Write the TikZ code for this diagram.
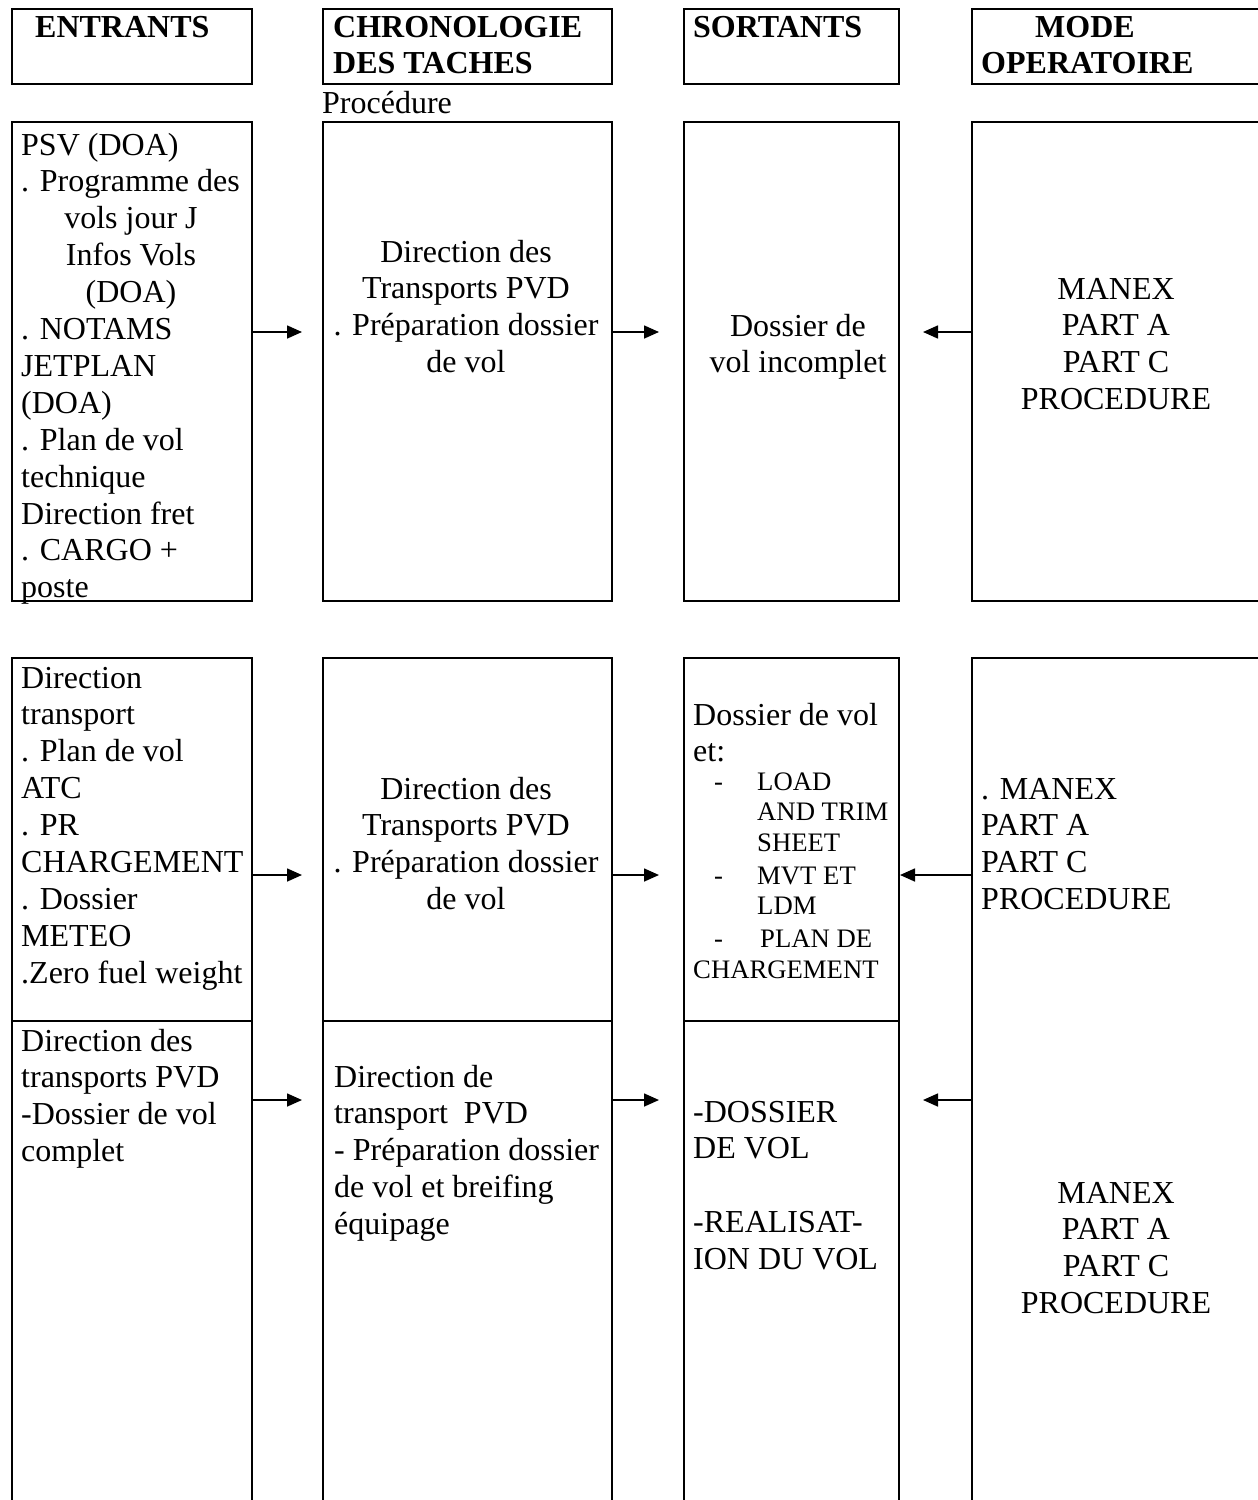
\documentclass[tikz,border=0pt]{standalone}
\usepackage{fontspec}
\setmainfont{Liberation Serif}
\usetikzlibrary{arrows.meta}
\begin{document}
% Multi-line text nodes are placed by the baseline of their last line.
\begin{tikzpicture}[x=1pt,y=-1pt,
  box/.style={draw, line width=2pt, inner sep=0pt, anchor=north west},
  body/.style={inner sep=0pt, font=\fontsize{32}{36.9}\selectfont},
  small/.style={inner sep=0pt, font=\fontsize{26.7}{30.9}\selectfont},
  head/.style={inner sep=0pt, font=\fontsize{32}{36}\selectfont\bfseries},
  lft/.style={anchor=base west, align=left},
  ctr/.style={anchor=base, align=center},
  arr/.style={line width=1.6pt, -{Triangle[length=15pt,width=13pt]}}]
\clip (0,0) rectangle (1258,1500);

% column headers
\node[box, minimum width=240pt, minimum height=75pt] (h1) at (11,8) {};
\node[box, minimum width=289pt, minimum height=75pt] (h2) at (322,8) {};
\node[box, minimum width=215pt, minimum height=75pt] (h3) at (683,8) {};
\node[box, minimum width=320pt, minimum height=75pt] (h4) at (971,8) {};
\node[head,lft] (h1t) at (35,37) {ENTRANTS};
\node[head,lft] (h2t) at (333,73) {CHRONOLOGIE\\DES TACHES};
\node[head,lft] (h3t) at (693,37) {SORTANTS};
\node[head,lft] (h4t) at (981,73) {\hspace*{54pt}MODE\\OPERATOIRE};
\node[body,lft] (proc) at (322,113) {Procédure};

% first stage
\node[box, minimum width=240pt, minimum height=479pt] (e1) at (11,121) {};
\node[box, minimum width=289pt, minimum height=479pt] (t1) at (322,121) {};
\node[box, minimum width=215pt, minimum height=479pt] (s1) at (683,121) {};
\node[box, minimum width=320pt, minimum height=479pt] (m1) at (971,121) {};

\node[body,lft] (e1a) at (21,191.9) {PSV (DOA)\\. Programme des};
\node[body,ctr] (e1b) at (131,302.6) {vols jour J\\Infos Vols\\(DOA)};
\node[body,lft] (e1c) at (21,597.8) {. NOTAMS\\JETPLAN\\(DOA)\\. Plan de vol\\technique\\Direction fret\\. CARGO +\\poste};
\node[body,ctr] (t1a) at (466,372.7) {Direction des\\Transports PVD\\. Préparation dossier\\de vol};
\node[body,ctr] (s1a) at (798,372.9) {Dossier de\\vol incomplet};
\node[body,ctr] (m1a) at (1116,409.7) {MANEX\\PART A\\PART C\\PROCEDURE};

% second stage, upper part
\node[box, minimum width=240pt, minimum height=363pt] (e2) at (11,657) {};
\node[box, minimum width=289pt, minimum height=363pt] (t2) at (322,657) {};
\node[box, minimum width=215pt, minimum height=363pt] (s2) at (683,657) {};
\node[box, minimum width=320pt, minimum height=900pt] (m2) at (971,657) {};

\node[body,lft] (e2a) at (21,983.2) {Direction\\transport\\. Plan de vol\\ATC\\. PR\\CHARGEMENT\\. Dossier\\METEO\\.Zero fuel weight};
\node[body,ctr] (t2a) at (466,909.7) {Direction des\\Transports PVD\\. Préparation dossier\\de vol};
\node[body,lft] (s2a) at (693,761.9) {Dossier de vol\\et:};
\node[small,lft] (s2d1) at (714,790) {-};
\node[small,lft] (s2b) at (757,851.8) {LOAD\\AND TRIM\\SHEET};
\node[small,lft] (s2d2) at (714,884) {-};
\node[small,lft] (s2c) at (757,914.9) {MVT ET\\LDM};
\node[small,lft] (s2d3) at (714,947) {-};
\node[small,lft] (s2e) at (760,947) {PLAN DE};
\node[small,lft] (s2f) at (693,978) {CHARGEMENT};
\node[body,lft] (m2a) at (981,909.7) {. MANEX\\PART A\\PART C\\PROCEDURE};

% second stage, lower part
\node[box, minimum width=240pt, minimum height=500pt] (e3) at (11,1020) {};
\node[box, minimum width=289pt, minimum height=500pt] (t3) at (322,1020) {};
\node[box, minimum width=215pt, minimum height=500pt] (s3) at (683,1020) {};

\node[body,lft] (e3a) at (21,1161.7) {Direction des\\transports PVD\\-Dossier de vol\\complet};
\node[body,lft] (t3a) at (334,1234.6) {Direction de\\transport\ \ PVD\\- Préparation dossier\\de vol et breifing\\équipage};
\node[body,lft] (s3a) at (693,1269.6) {-DOSSIER\\DE VOL\\[36.9pt]-REALISAT-\\ION DU VOL};
\node[body,ctr] (m3a) at (1116,1313.7) {MANEX\\PART A\\PART C\\PROCEDURE};

% connectors
\coordinate (a1) at (302,332);
\coordinate (b1) at (659,332);
\coordinate (c1) at (923,332);
\draw[arr] (e1.east |- a1) -- (a1);
\draw[arr] (t1.east |- b1) -- (b1);
\draw[arr] (m1.west |- c1) -- (c1);

\coordinate (a2) at (302,875);
\coordinate (b2) at (659,875);
\draw[arr] (e2.east |- a2) -- (a2);
\draw[arr] (t2.east |- b2) -- (b2);
\draw[arr] (m2.west |- b2) -- (s2.east |- b2);

\coordinate (a3) at (302,1100);
\coordinate (b3) at (659,1100);
\coordinate (c3) at (923,1100);
\draw[arr] (e3.east |- a3) -- (a3);
\draw[arr] (t3.east |- b3) -- (b3);
\draw[arr] (m2.west |- c3) -- (c3);
\end{tikzpicture}
\end{document}
